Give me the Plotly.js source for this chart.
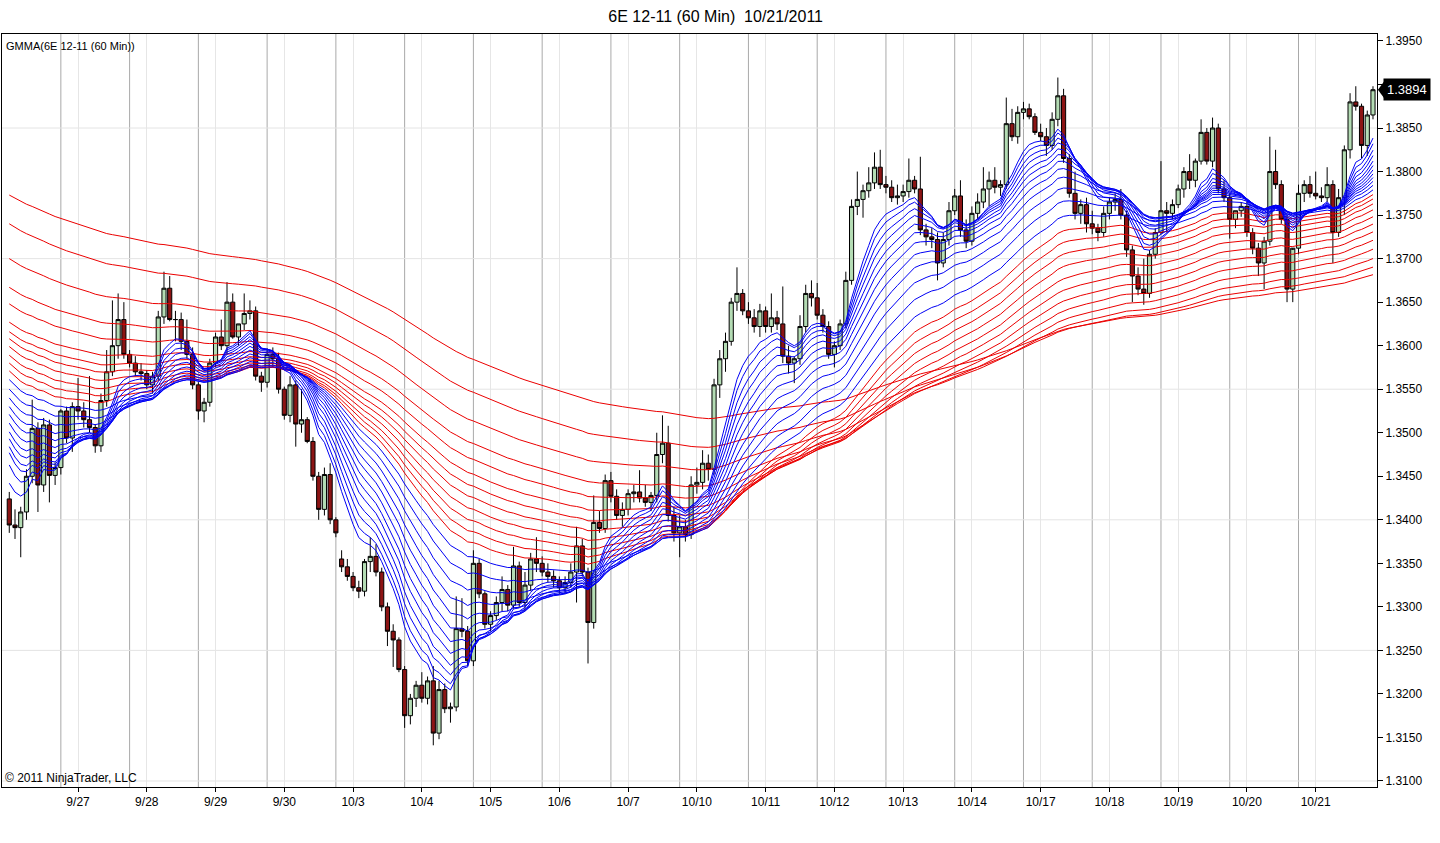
<!DOCTYPE html>
<html>
<head>
<meta charset="utf-8">
<script src="https://cdn.plot.ly/plotly-3.0.1.min.js"></script>
<style>html,body{margin:0;padding:0;background:#fff;}#chart{width:1440px;height:843px;}</style>
</head>
<body>
<div id="chart"></div>
<script>
// ---- data (2-hour bars) ----
const opens = [1.3424,1.3394,1.3391,1.3409,1.3450,1.3505,1.3440,1.3509,1.3451,1.3460,1.3525,1.3494,1.3530,1.3525,1.3515,1.3506,1.3485,1.3537,1.3570,1.3600,
1.3630,1.3590,1.3580,1.3570,1.3568,1.3555,1.3565,1.3633,1.3666,1.3630,1.3630,1.3605,1.3590,1.3555,1.3525,1.3535,1.3580,1.3610,1.3600,1.3650,
1.3610,1.3625,1.3637,1.3640,1.3565,1.3558,1.3590,1.3585,1.3550,1.3520,1.3555,1.3510,1.3515,1.3490,1.3450,1.3412,1.3452,1.3400,1.3355,1.3346,
1.3335,1.3322,1.3318,1.3352,1.3358,1.3340,1.3300,1.3272,1.3262,1.3228,1.3175,1.3195,1.3210,1.3195,1.3215,1.3155,1.3205,1.3183,1.3185,1.3275,
1.3272,1.3238,1.3350,1.3315,1.3280,1.3290,1.3305,1.3320,1.3302,1.3347,1.3305,1.3325,1.3355,1.3350,1.3340,1.3335,1.3330,1.3322,1.3328,1.3340,
1.3370,1.3340,1.3282,1.3397,1.3390,1.3445,1.3427,1.3405,1.3412,1.3430,1.3432,1.3425,1.3420,1.3428,1.3475,1.3488,1.3405,1.3385,1.3392,1.3383,
1.3440,1.3443,1.3465,1.3458,1.3555,1.3585,1.3605,1.3650,1.3660,1.3640,1.3632,1.3622,1.3640,1.3622,1.3632,1.3625,1.3588,1.3580,1.3585,1.3622,
1.3660,1.3655,1.3635,1.3622,1.3590,1.3600,1.3625,1.3675,1.3760,1.3768,1.3778,1.3787,1.3805,1.3785,1.3782,1.3770,1.3772,1.3777,1.3790,1.3780,
1.3733,1.3725,1.3722,1.3695,1.3722,1.3755,1.3772,1.3733,1.3720,1.3752,1.3765,1.3780,1.3790,1.3782,1.3785,1.3855,1.3840,1.3868,1.3872,1.3863,
1.3845,1.3840,1.3830,1.3860,1.3887,1.3815,1.3775,1.3752,1.3762,1.3740,1.3735,1.3730,1.3752,1.3765,1.3768,1.3750,1.3710,1.3680,1.3665,1.3660,
1.3705,1.3730,1.3755,1.3752,1.3762,1.3780,1.3800,1.3790,1.3812,1.3845,1.3812,1.3850,1.3780,1.3770,1.3745,1.3755,1.3760,1.3730,1.3712,1.3695,
1.3720,1.3800,1.3785,1.3745,1.3665,1.3712,1.3775,1.3785,1.3775,1.3772,1.3770,1.3785,1.3730,1.3770,1.3825,1.3880,1.3875,1.3830,1.3865];
const highs = [1.3432,1.3412,1.3415,1.3458,1.3538,1.3512,1.3517,1.3515,1.3466,1.3527,1.3530,1.3535,1.3563,1.3535,1.3565,1.3510,1.3545,1.3595,1.3652,1.3660,
1.3650,1.3595,1.3588,1.3580,1.3572,1.3570,1.3640,1.3685,1.3680,1.3640,1.3638,1.3630,1.3598,1.3558,1.3540,1.3585,1.3615,1.3630,1.3673,1.3660,
1.3625,1.3660,1.3652,1.3645,1.3570,1.3597,1.3598,1.3592,1.3553,1.3565,1.3560,1.3550,1.3518,1.3495,1.3455,1.3460,1.3465,1.3403,1.3365,1.3355,
1.3340,1.3330,1.3355,1.3380,1.3372,1.3345,1.3305,1.3280,1.3265,1.3232,1.3200,1.3215,1.3225,1.3220,1.3232,1.3215,1.3212,1.3190,1.3312,1.3310,
1.3278,1.3365,1.3355,1.3318,1.3295,1.3312,1.3335,1.3325,1.3369,1.3352,1.3340,1.3362,1.3380,1.3358,1.3350,1.3342,1.3335,1.3335,1.3350,1.3392,
1.3378,1.3345,1.3428,1.3410,1.3452,1.3455,1.3435,1.3420,1.3435,1.3440,1.3457,1.3440,1.3432,1.3500,1.3520,1.3508,1.3415,1.3405,1.3400,1.3450,
1.3460,1.3480,1.3475,1.3562,1.3595,1.3615,1.3655,1.3690,1.3665,1.3650,1.3642,1.3648,1.3645,1.3660,1.3640,1.3668,1.3600,1.3588,1.3635,1.3670,
1.3675,1.3672,1.3642,1.3628,1.3605,1.3630,1.3685,1.3768,1.3800,1.3785,1.3805,1.3822,1.3825,1.3795,1.3790,1.3785,1.3785,1.3815,1.3795,1.3817,
1.3740,1.3735,1.3730,1.3730,1.3765,1.3780,1.3790,1.3745,1.3760,1.3775,1.3805,1.3800,1.3805,1.3790,1.3885,1.3872,1.3875,1.3880,1.3878,1.3867,
1.3855,1.3850,1.3868,1.3908,1.3895,1.3820,1.3800,1.3768,1.3770,1.3755,1.3740,1.3760,1.3770,1.3775,1.3780,1.3755,1.3715,1.3690,1.3700,1.3710,
1.3735,1.3812,1.3765,1.3768,1.3785,1.3805,1.3820,1.3815,1.3860,1.3850,1.3862,1.3855,1.3790,1.3775,1.3755,1.3765,1.3765,1.3735,1.3718,1.3725,
1.3840,1.3825,1.3790,1.3750,1.3710,1.3785,1.3790,1.3795,1.3800,1.3782,1.3805,1.3790,1.3780,1.3830,1.3890,1.3898,1.3878,1.3870,1.3898];
const lows = [1.3385,1.3378,1.3357,1.3400,1.3442,1.3409,1.3432,1.3420,1.3440,1.3452,1.3488,1.3478,1.3515,1.3506,1.3500,1.3477,1.3478,1.3530,1.3565,1.3585,
1.3585,1.3575,1.3565,1.3560,1.3550,1.3545,1.3560,1.3625,1.3628,1.3605,1.3595,1.3585,1.3550,1.3515,1.3512,1.3530,1.3575,1.3595,1.3590,1.3608,
1.3600,1.3618,1.3630,1.3560,1.3547,1.3552,1.3575,1.3545,1.3515,1.3512,1.3484,1.3500,1.3488,1.3445,1.3400,1.3405,1.3395,1.3380,1.3340,1.3330,
1.3318,1.3310,1.3312,1.3340,1.3335,1.3295,1.3255,1.3231,1.3225,1.3161,1.3165,1.3185,1.3190,1.3188,1.3141,1.3148,1.3178,1.3167,1.3180,1.3265,
1.3232,1.3232,1.3310,1.3275,1.3272,1.3285,1.3295,1.3295,1.3298,1.3300,1.3295,1.3318,1.3340,1.3335,1.3328,1.3322,1.3315,1.3315,1.3322,1.3305,
1.3335,1.3235,1.3275,1.3385,1.3385,1.3420,1.3400,1.3392,1.3405,1.3420,1.3420,1.3415,1.3410,1.3420,1.3465,1.3398,1.3375,1.3357,1.3375,1.3378,
1.3430,1.3435,1.3445,1.3452,1.3540,1.3570,1.3600,1.3640,1.3635,1.3625,1.3615,1.3610,1.3615,1.3615,1.3618,1.3580,1.3568,1.3557,1.3578,1.3615,
1.3645,1.3630,1.3615,1.3585,1.3575,1.3595,1.3620,1.3670,1.3750,1.3747,1.3770,1.3780,1.3780,1.3775,1.3765,1.3762,1.3765,1.3770,1.3775,1.3727,
1.3715,1.3712,1.3675,1.3690,1.3715,1.3750,1.3725,1.3712,1.3715,1.3745,1.3758,1.3760,1.3775,1.3772,1.3780,1.3835,1.3832,1.3860,1.3860,1.3842,
1.3835,1.3818,1.3825,1.3852,1.3810,1.3770,1.3745,1.3740,1.3730,1.3728,1.3720,1.3725,1.3745,1.3755,1.3745,1.3702,1.3650,1.3658,1.3647,1.3655,
1.3700,1.3728,1.3730,1.3745,1.3758,1.3770,1.3780,1.3782,1.3808,1.3808,1.3805,1.3775,1.3765,1.3723,1.3735,1.3748,1.3725,1.3705,1.3680,1.3665,
1.3715,1.3780,1.3740,1.3650,1.3650,1.3705,1.3765,1.3770,1.3768,1.3765,1.3765,1.3695,1.3725,1.3750,1.3815,1.3870,1.3815,1.3818,1.3860];
const closes = [1.3394,1.3391,1.3409,1.3450,1.3505,1.3440,1.3509,1.3451,1.3460,1.3525,1.3494,1.3530,1.3525,1.3515,1.3506,1.3485,1.3537,1.3570,1.3600,1.3630,
1.3590,1.3580,1.3570,1.3568,1.3555,1.3565,1.3633,1.3666,1.3630,1.3630,1.3605,1.3590,1.3555,1.3525,1.3535,1.3580,1.3610,1.3600,1.3650,1.3610,
1.3625,1.3637,1.3640,1.3565,1.3558,1.3590,1.3585,1.3550,1.3520,1.3555,1.3510,1.3515,1.3490,1.3450,1.3412,1.3452,1.3400,1.3385,1.3346,1.3335,
1.3322,1.3318,1.3352,1.3358,1.3340,1.3300,1.3272,1.3262,1.3228,1.3175,1.3195,1.3210,1.3195,1.3215,1.3155,1.3205,1.3183,1.3185,1.3275,1.3272,
1.3238,1.3350,1.3315,1.3280,1.3290,1.3305,1.3320,1.3302,1.3347,1.3305,1.3325,1.3355,1.3350,1.3340,1.3335,1.3330,1.3322,1.3328,1.3340,1.3370,
1.3340,1.3282,1.3397,1.3390,1.3445,1.3427,1.3405,1.3412,1.3430,1.3432,1.3425,1.3420,1.3428,1.3475,1.3488,1.3405,1.3385,1.3392,1.3383,1.3440,
1.3443,1.3465,1.3458,1.3555,1.3585,1.3605,1.3650,1.3660,1.3640,1.3632,1.3622,1.3640,1.3622,1.3632,1.3625,1.3588,1.3580,1.3585,1.3622,1.3660,
1.3655,1.3635,1.3622,1.3590,1.3600,1.3625,1.3675,1.3760,1.3768,1.3778,1.3787,1.3805,1.3785,1.3782,1.3770,1.3772,1.3777,1.3790,1.3780,1.3733,
1.3725,1.3722,1.3695,1.3722,1.3755,1.3772,1.3733,1.3720,1.3752,1.3765,1.3780,1.3790,1.3782,1.3785,1.3855,1.3840,1.3868,1.3872,1.3863,1.3845,
1.3840,1.3830,1.3860,1.3887,1.3815,1.3775,1.3752,1.3762,1.3740,1.3735,1.3730,1.3752,1.3765,1.3768,1.3750,1.3710,1.3680,1.3665,1.3660,1.3705,
1.3730,1.3755,1.3752,1.3762,1.3780,1.3800,1.3790,1.3812,1.3845,1.3812,1.3850,1.3780,1.3770,1.3745,1.3755,1.3760,1.3730,1.3712,1.3695,1.3720,
1.3800,1.3785,1.3745,1.3665,1.3712,1.3775,1.3785,1.3775,1.3772,1.3770,1.3785,1.3730,1.3770,1.3825,1.3880,1.3875,1.3830,1.3865,1.3894];

const dayLabels = ['9/27','9/28','9/29','9/30','10/3','10/4','10/5','10/6','10/7','10/10','10/11','10/12','10/13','10/14','10/17','10/18','10/19','10/20','10/21'];

// GMMA settings: EMA periods (60-min bars) and starting values read at the left edge
const shortPeriods = [18,21,25,29,34,39,45,52,60,70,82,96];
const shortSeeds   = [1.3442,1.3463,1.3477,1.3484,1.3493,1.3501,1.3511,1.3521,1.3530,1.3540,1.3550,1.3561];
const longPeriods  = [110,122,135,150,167,185,205,228,255,290,335,400];
const longSeeds    = [1.3571,1.3580,1.3589,1.3599,1.3608,1.3616,1.3627,1.3648,1.3667,1.3700,1.3740,1.3773];
const lastPrice = 1.3894;

// ---- build ----
const xs = closes.map((_, i) => i);
function ema(vals, period, seed) {
  const a1 = 2 / (period + 1);
  const a = 1 - (1 - a1) * (1 - a1); // two 60-min steps per bar
  let e = seed;
  return vals.map((v, i) => { if (i > 0) e = e + a * (v - e); return e; });
}

const traces = [{
  type: 'candlestick', x: xs, open: opens, high: highs, low: lows, close: closes,
  increasing: {line: {color: '#000', width: 1}, fillcolor: '#b4dcb4'},
  decreasing: {line: {color: '#000', width: 1}, fillcolor: '#8c1414'},
  whiskerwidth: 0, hoverinfo: 'skip', showlegend: false
}];
longPeriods.forEach((p, k) => traces.push({
  type: 'scatter', mode: 'lines', x: xs, y: ema(closes, p, longSeeds[k]),
  line: {color: 'rgb(235,0,0)', width: 1}, hoverinfo: 'skip', showlegend: false
}));
shortPeriods.forEach((p, k) => traces.push({
  type: 'scatter', mode: 'lines', x: xs, y: ema(closes, p, shortSeeds[k]),
  line: {color: 'rgb(0,0,245)', width: 1}, hoverinfo: 'skip', showlegend: false
}));

const shapes = [];
dayLabels.forEach((d, k) => shapes.push({
  type: 'line', xref: 'x', yref: 'paper', x0: 9 + 12 * k, x1: 9 + 12 * k, y0: 0, y1: 1,
  line: {color: '#a9a9a9', width: 1}, layer: 'below'
}));
for (let g = 1.3100; g < 1.396; g += 0.015) shapes.push({
  type: 'line', xref: 'paper', yref: 'y', x0: 0, x1: 1, y0: g, y1: g,
  line: {color: '#e4e4e4', width: 1}, layer: 'below'
});
shapes.push({
  type: 'path', xref: 'paper', yref: 'y',
  path: 'M 1.0007 ' + lastPrice + ' L 1.0055 ' + (lastPrice + 0.00104) + ' L 1.0055 ' + (lastPrice - 0.00104) + ' Z',
  fillcolor: '#000', line: {width: 0}
});

// price-axis ticks every 0.0050; the level hidden behind the last-price box is left unlabelled
const yTickVals = [], yTickText = [];
for (let k = 0; k <= 17; k++) {
  const v = 1.3100 + 0.005 * k;
  yTickVals.push(v);
  yTickText.push(Math.abs(v - lastPrice) < 0.0012 ? '' : v.toFixed(4));
}

const font = 'Arial, "Liberation Sans", sans-serif';
const layout = {
  width: 1440, height: 843,
  margin: {l: 2, r: 63, t: 34, b: 56},
  paper_bgcolor: '#fff', plot_bgcolor: '#fff',
  font: {family: font, size: 12, color: '#000'},
  title: {text: '6E 12-11 (60 Min)  10/21/2011', xref: 'container', x: 0.497, xanchor: 'center',
          yref: 'container', y: 0.98, yanchor: 'middle', font: {family: font, size: 16, color: '#000'}},
  showlegend: false,
  boxgap: 0.15, boxgroupgap: 0.15,
  xaxis: {
    range: [-1.27, 238.7], rangeslider: {visible: false},
    tickmode: 'array', tickvals: dayLabels.map((d, k) => 12 + 12 * k), ticktext: dayLabels,
    ticks: 'outside', ticklen: 4, tickcolor: '#000',
    showgrid: true, gridcolor: '#e6e6e6', gridwidth: 1, zeroline: false,
    showline: true, linecolor: '#000', linewidth: 1, mirror: true,
    tickfont: {family: font, size: 12, color: '#000'}, fixedrange: true
  },
  yaxis: {
    side: 'right', range: [1.30931, 1.39580],
    tickmode: 'array', tickvals: yTickVals, ticktext: yTickText,
    ticks: 'outside', ticklen: 5, tickcolor: '#000',
    showgrid: false, zeroline: false,
    showline: true, linecolor: '#000', linewidth: 1, mirror: true,
    tickfont: {family: font, size: 12, color: '#000'}, fixedrange: true
  },
  shapes: shapes,
  annotations: [
    {xref: 'paper', yref: 'paper', x: 0, y: 1, xanchor: 'left', yanchor: 'top', xshift: 2, yshift: -4,
     text: 'GMMA(6E 12-11 (60 Min))', showarrow: false, font: {family: font, size: 11, color: '#000'}},
    {xref: 'paper', yref: 'paper', x: 0, y: 0, xanchor: 'left', yanchor: 'bottom', xshift: 1, yshift: 0,
     text: '© 2011 NinjaTrader, LLC', showarrow: false, font: {family: font, size: 12, color: '#000'}},
    {xref: 'paper', yref: 'y', x: 1, y: lastPrice, xanchor: 'left', yanchor: 'middle', xshift: 6,
     text: lastPrice.toFixed(4), showarrow: false, bgcolor: '#000', borderpad: 3,
     font: {family: font, size: 13, color: '#fff'}}
  ]
};

Plotly.newPlot('chart', traces, layout, {displayModeBar: false, staticPlot: true});
</script>
</body>
</html>
